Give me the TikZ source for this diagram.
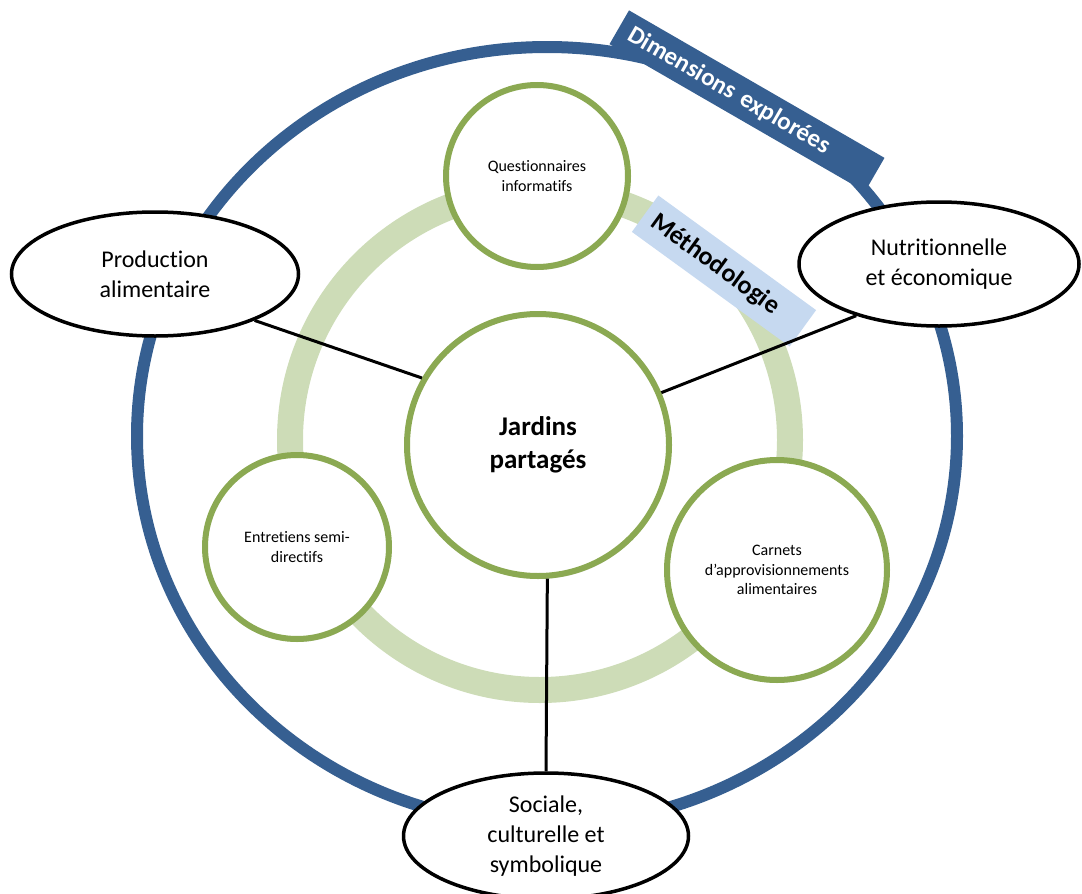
\documentclass[tikz,border=0pt]{standalone}
\usepackage{fontspec}
\setmainfont{Carlito}[Ligatures={NoCommon,NoRare}]
\usepackage{tikz}
\usetikzlibrary{shapes.geometric,shadows}
\definecolor{bleu}{RGB}{54,95,145}
\definecolor{vert}{RGB}{139,169,82}
\definecolor{vertclair}{RGB}{205,220,183}
\definecolor{bleuclair}{RGB}{198,217,240}

\begin{document}
\begin{tikzpicture}[x=1pt,y=-1pt,
    methode/.style={circle,draw=vert,line width=6pt,fill=white,inner sep=0pt,align=center,
      font=\fontsize{16}{19.5}\selectfont,
      drop shadow={opacity=0.2,shadow xshift=1pt,shadow yshift=-3pt}},
    dimension/.style={ellipse,draw,line width=3.5pt,fill=white,inner sep=0pt,align=center,
      font=\fontsize{24}{30}\selectfont},
    lien/.style={line width=3pt}]
    \useasboundingbox (0,0) rectangle (1082,894);

    % cercles de fond
    \draw[bleu,line width=12pt] (547,436) ellipse [x radius=410,y radius=389];
    \draw[vertclair,line width=26pt] (540,440) circle [radius=250];

    % bandeaux
    \node[fill=bleu,text=white,rotate=-30,minimum width=295pt,minimum height=39pt,
      inner xsep=12pt,text width=271pt,align=left,
      font=\fontsize{25}{28}\selectfont\bfseries] (dim) at (747,101) {Dimensions explorées};
    \node[fill=bleuclair,rotate=-36,minimum width=195pt,minimum height=45pt,
      inner xsep=10pt,text width=175pt,align=left,
      font=\fontsize{26}{28}\selectfont\bfseries] (meth) at (724,271) {Méthodologie};

    % methodes
    \node[methode,minimum size=182pt] (quest) at (537,176) {Questionnaires\\informatifs};
    \node[methode,minimum size=184pt] (entre) at (297,547) {Entretiens semi-\\directifs};
    \node[methode,minimum size=220pt] (carn) at (777,570) {Carnets\\d’approvisionnements\\alimentaires};
    \node[methode,minimum size=262pt,font=\fontsize{27}{33}\selectfont\bfseries] (jardin) at (538,445) {Jardins\\partagés};

    % dimensions
    \node[dimension,minimum width=287pt,minimum height=124pt] (prod) at (155,274) {Production\\alimentaire};
    \node[dimension,minimum width=280pt,minimum height=124pt] (nutri) at (939,264) {Nutritionnelle\\et économique};
    \node[dimension,minimum width=285pt,minimum height=126pt] (soc) at (546,836) {Sociale,\\culturelle et\\symbolique};

    \draw[lien] (prod.-25) -- (jardin.150);
    \draw[lien] (nutri.212) -- (jardin.23);
    \draw[lien] (jardin.-86) -- (soc.north);
\end{tikzpicture}
\end{document}
